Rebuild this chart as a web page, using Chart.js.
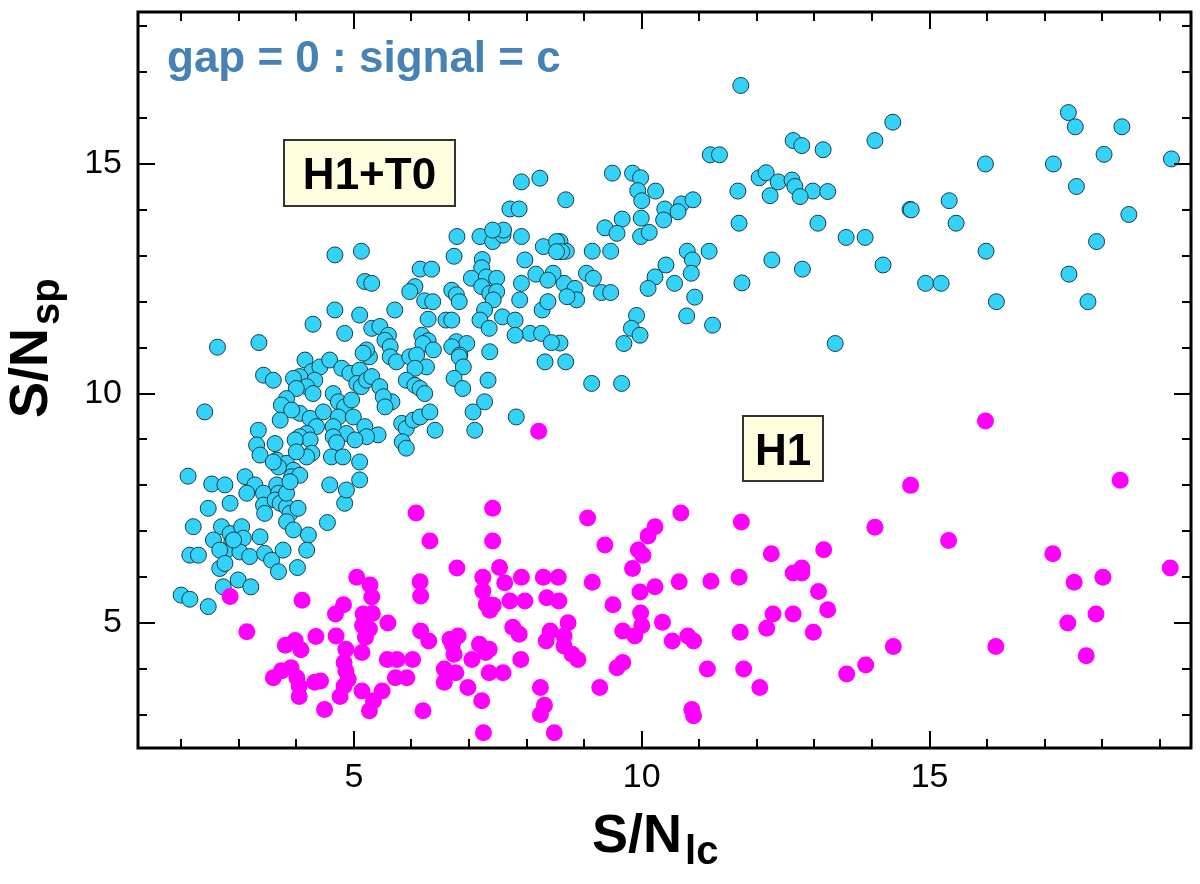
<!DOCTYPE html>
<html>
<head>
<meta charset="utf-8">
<script src="https://cdn.jsdelivr.net/npm/chart.js@4/dist/chart.umd.min.js"></script>
<style>
  html, body { margin: 0; padding: 0; background: #fff; }
  #wrap { width: 1200px; height: 884px; }
</style>
</head>
<body>
<div id="wrap"><canvas id="chart" width="1200" height="884"></canvas></div>
<script>
// axis ranges and tick values
const xRange = [1.25, 19.54];
const yRange = [2.28, 18.31];
const xMajorTicks = [5, 10, 15];
const yMajorTicks = [5, 10, 15];

// labels
const titleText = 'gap = 0 : signal = c';
const xTitle = ['S/N', 'lc'];
const yTitle = ['S/N', 'sp'];
const boxLabels = ['H1+T0', 'H1'];

// H1+T0 population (cyan), [S/N_lc, S/N_sp]
const h1t0Points = [
  [14.36,15.91],[14.05,15.51],[17.41,16.12],[17.53,15.81],[18.34,15.81],[18.03,15.21],[19.20,15.11],[15.97,15.00],
  [17.15,15.00],[17.55,14.51],[15.34,14.20],[14.66,14.01],[14.68,14.00],[15.46,13.71],[18.46,13.90],[15.98,13.10],
  [17.90,13.31],[14.19,12.80],[14.93,12.40],[15.20,12.40],[17.42,12.60],[16.16,12.00],[17.75,12.00],
  [11.72,16.71],[12.63,15.51],[12.78,15.40],[13.15,15.31],[11.19,15.20],[11.35,15.20],[9.49,14.80],[9.84,14.80],
  [9.98,14.70],[12.04,14.70],[12.16,14.81],[12.37,14.61],[12.61,14.65],[12.66,14.51],[12.97,14.41],[12.75,14.29],
  [13.23,14.40],[11.67,14.41],[12.23,14.31],[9.93,14.42],[10.00,14.20],[10.24,14.41],[8.68,14.22],[10.40,14.02],
  [10.38,13.78],[10.69,14.13],[10.89,14.22],[10.63,13.96],[9.99,13.82],[9.98,13.42],[10.13,13.51],[9.66,13.80],
  [9.36,13.61],[9.57,13.49],[8.58,13.31],[8.69,13.10],[9.14,13.10],[9.46,13.10],[11.69,13.71],[13.06,13.71],
  [13.55,13.40],[13.88,13.40],[10.79,13.10],[11.17,13.10],[10.88,12.91],[10.42,12.80],[10.23,12.54],[10.11,12.29],
  [10.57,12.40],[10.86,12.62],[12.26,12.91],[12.79,12.71],[11.74,12.41],[9.04,12.62],[9.16,12.51],[8.65,12.40],
  [8.84,12.29],[8.87,12.04],[8.70,12.11],[9.30,12.20],[9.46,12.20],[10.92,12.10],[10.78,11.69],[11.23,11.49],
  [9.91,11.70],[9.82,11.42],[9.97,11.27],[9.69,11.09],[13.36,11.09],[8.68,10.69],[9.13,10.22],[9.65,10.22],
  [8.58,11.10],
  [7.91,14.61],[8.23,14.69],[7.71,14.02],[7.87,14.02],
  [6.79,13.42],[7.19,13.42],[7.41,13.31],[7.59,13.45],[7.60,13.56],[7.41,13.56],[7.91,13.42],[8.29,13.20],
  [8.52,13.31],[8.61,13.09],[8.52,13.09],[6.74,12.99],[7.23,12.92],[7.97,12.91],[5.13,13.10],[4.67,13.02],
  [6.15,12.71],[6.35,12.71],[7.22,12.74],[8.16,12.60],[8.46,12.62],[8.37,12.47],[7.04,12.51],[7.30,12.54],
  [7.48,12.51],[7.22,12.33],[5.19,12.44],[5.31,12.40],[6.06,12.33],[5.97,12.22],[6.70,12.25],[6.78,12.15],
  [6.83,12.00],[7.91,12.40],[7.36,12.18],[7.48,12.22],[6.23,12.02],[6.37,12.00],[7.42,12.04],[7.27,11.82],
  [7.88,12.04],[8.27,11.82],[8.37,12.00],[4.67,11.82],[5.10,11.71],[5.71,11.82],[7.58,11.67],[7.80,11.60],
  [7.19,11.60],[7.35,11.42],[6.29,11.62],[6.60,11.60],[6.70,11.60],[4.29,11.51],[5.31,11.42],[5.45,11.46],
  [4.84,11.31],[8.06,11.31],[8.26,11.31],[7.80,11.27],[8.43,11.11],[5.60,11.27],[5.54,11.16],[5.63,11.02],
  [6.18,11.27],[6.29,11.15],[6.20,11.09],[6.38,10.95],[6.78,11.13],[6.96,11.09],[6.70,11.02],[6.84,10.84],
  [7.36,10.91],[8.32,10.69],[5.27,10.80],[5.22,10.95],[5.16,10.88],[5.63,10.80],[5.74,10.69],[5.97,10.80],
  [6.09,10.84],[6.26,10.58],[6.06,10.55],[6.83,10.80],[6.90,10.58],[4.15,10.73],[4.27,10.48],[4.41,10.58],
  [4.32,10.29],[4.58,10.73],[4.79,10.55],[4.93,10.44],[5.10,10.51],[5.05,10.22],[5.13,10.15],[5.22,10.29],
  [5.31,10.37],[5.45,10.15],[5.66,9.82],[5.51,9.93],[4.64,10.00],[4.73,9.82],[4.84,9.71],[4.96,9.86],
  [5.91,10.29],[6.06,10.18],[6.15,10.11],[6.23,10.00],[6.74,10.33],[6.89,10.11],[7.33,10.29],[4.06,10.37],
  [4.18,10.15],[4.29,10.00],[4.06,9.57],[4.24,9.46],[4.35,9.28],[4.18,9.13],[4.47,9.60],[4.73,9.49],
  [4.64,9.28],[4.99,9.49],[4.87,9.13],[5.19,9.28],[5.42,9.10],[5.22,9.06],[5.54,9.71],[5.83,9.35],
  [5.91,9.24],[6.03,9.42],[6.15,9.49],[6.32,9.60],[6.41,9.20],[7.07,9.60],[7.27,9.82],[7.10,9.20],
  [7.82,9.49],[5.84,8.95],[5.91,8.81],[5.02,8.99],[4.64,9.06],[4.70,8.93],[4.06,9.06],[4.24,8.99],
  [4.27,8.70],[4.18,8.62],[4.61,8.62],[4.81,8.62],[5.10,8.51],
  [2.63,11.01],[3.35,11.11],[2.41,9.60],[3.43,10.40],[3.60,10.29],[3.95,10.33],[4.00,10.11],[3.83,9.89],
  [3.74,9.75],[3.92,9.64],[3.72,9.42],[3.34,9.20],[3.31,8.88],[3.37,8.66],[3.63,8.91],[3.66,8.55],
  [3.83,8.48],[3.98,8.99],[4.00,8.73],[3.95,8.33],[2.12,8.20],[2.53,8.03],[2.76,8.01],[2.47,7.50],
  [2.85,7.61],[3.11,8.19],[3.28,8.01],[3.14,7.83],[3.43,7.83],[3.43,7.57],[3.45,7.39],[3.66,8.01],
  [3.69,7.83],[3.63,7.68],[3.72,7.61],[3.83,7.53],[3.89,7.39],[4.03,7.50],[3.83,7.21],[3.95,7.03],
  [4.21,6.92],[4.18,6.59],[4.54,7.19],[2.21,7.10],[2.70,7.10],[2.85,6.95],[3.05,7.10],[3.08,6.85],
  [2.56,6.81],[2.88,6.77],[2.76,6.55],[3.02,6.55],[3.19,6.45],[3.37,6.88],[3.45,6.52],[3.57,6.37],
  [3.77,6.59],[2.15,6.48],[2.30,6.48],[2.67,6.19],[2.99,5.94],[3.21,5.79],[2.73,5.79],[3.69,6.12],
  [4.02,6.21],[2.00,5.61],[2.15,5.52],[2.47,5.36],[4.84,7.61],[4.87,7.90],[4.58,8.01],[5.10,8.12],
  [3.69,8.40],[3.60,8.51],[3.83,7.83],[3.92,8.19],[4.06,8.22],[3.89,8.08],[2.91,6.81],[2.67,6.59],
  [2.76,6.30]
];

// H1 population (magenta)
const h1Points = [
  [2.85,5.58],[3.14,4.81],[4.10,5.50],[4.34,4.71],[3.81,4.52],[3.98,4.62],[4.08,4.42],[4.68,5.20],
  [4.82,5.40],[4.69,4.72],[4.86,4.43],[5.14,4.36],[5.16,5.20],[5.32,5.21],[5.15,4.95],[5.27,4.87],
  [5.20,4.69],[5.31,5.57],[5.59,5.00],[4.83,4.14],[4.86,3.96],[4.90,3.78],[4.83,3.63],[3.60,3.81],
  [3.74,3.96],[3.91,4.03],[4.01,3.81],[4.05,3.63],[4.32,3.71],[4.42,3.74],[4.05,3.40],[4.49,3.12],
  [4.76,3.40],[5.14,3.52],[5.49,3.52],[5.34,3.31],[5.27,3.09],[5.58,4.21],[5.75,4.21],[6.02,4.21],
  [5.72,3.81],[5.92,3.81],[6.16,4.83],[6.30,4.61],[6.20,3.09],[6.67,4.65],[6.81,4.72],[6.74,4.32],
  [6.71,4.54],[6.57,4.00],[6.57,3.71],[6.77,3.92],[6.98,3.60],[7.05,4.21],[7.22,3.31],[7.18,4.54],
  [7.35,4.43],[7.29,4.36],[7.35,3.92],[7.59,3.92],[7.25,2.61],[7.30,5.41],[7.36,5.28],[7.71,5.48],
  [7.97,5.48],[7.76,4.91],[7.87,4.76],[7.90,4.21],[8.24,3.60],[8.31,3.21],[8.24,3.01],[8.48,2.61],
  [8.35,5.55],[8.56,5.48],[8.41,4.83],[8.34,4.61],[8.72,5.01],[8.65,4.72],[8.65,4.50],[8.79,4.32],
  [8.89,4.21],[9.27,3.60],[9.50,5.40],[9.57,4.03],[9.67,4.14],[9.67,4.83],[9.88,4.72],[9.98,5.22],
  [10.00,4.95],[10.36,5.02],[10.53,4.61],[10.80,4.72],[10.90,4.61],[10.87,3.12],[10.90,2.98],[11.14,4.00],
  [6.08,7.40],[7.41,7.50],[6.32,6.79],[7.41,6.79],[9.06,7.29],[10.68,7.40],[10.23,7.10],[10.11,6.90],
  [9.36,6.70],[9.94,6.59],[10.02,6.48],[9.84,6.19],[6.79,6.20],[7.53,6.21],[7.24,6.00],[7.62,5.88],
  [7.91,6.00],[8.29,6.00],[8.55,6.00],[9.14,5.89],[10.65,5.90],[10.23,5.79],[9.97,5.68],[5.05,6.00],
  [5.28,5.83],[6.15,5.90],[6.16,5.59],[7.24,5.70],[7.42,5.39],[8.21,9.18],
  [15.97,9.40],[18.31,8.11],[14.67,8.00],[11.73,7.20],[14.05,7.09],[15.33,6.80],[17.14,6.51],[13.16,6.60],
  [12.25,6.51],[11.20,5.91],[11.69,6.00],[12.63,6.09],[12.78,6.20],[12.78,6.09],[13.07,5.69],[17.51,5.89],
  [18.01,6.00],[19.18,6.20],[12.28,5.20],[12.63,5.20],[13.23,5.29],[17.89,5.20],[17.40,5.00],[11.71,4.80],
  [12.17,4.89],[12.98,4.80],[14.37,4.49],[16.15,4.49],[17.72,4.29],[11.77,4.00],[13.89,4.09],[13.56,3.89],
  [12.05,3.60]
];

const FONT = '"Liberation Sans", Arial, Helvetica, sans-serif';

// frame, inward ticks, titles and label boxes
const decorations = {
  id: 'decorations',
  afterDatasetsDraw(chart) {
    const ctx = chart.ctx;
    const { left, right, top, bottom } = chart.chartArea;
    const xs = chart.scales.x, ys = chart.scales.y;
    ctx.save();
    ctx.strokeStyle = '#000';
    ctx.lineWidth = 2;
    ctx.beginPath();
    for (let v = Math.ceil(xRange[0]); v <= Math.floor(xRange[1]); v++) {
      const len = xMajorTicks.includes(v) ? 17 : 9;
      const px = Math.round(xs.getPixelForValue(v));
      ctx.moveTo(px, bottom); ctx.lineTo(px, bottom - len);
      ctx.moveTo(px, top); ctx.lineTo(px, top + len);
    }
    for (let v = Math.ceil(yRange[0]); v <= Math.floor(yRange[1]); v++) {
      const len = yMajorTicks.includes(v) ? 17 : 9;
      const py = Math.round(ys.getPixelForValue(v));
      ctx.moveTo(left, py); ctx.lineTo(left + len, py);
      ctx.moveTo(right, py); ctx.lineTo(right - len, py);
    }
    ctx.stroke();
    ctx.lineWidth = 3;
    ctx.strokeRect(left, top, right - left, bottom - top);

    // title inside plot
    ctx.fillStyle = '#4682b4';
    ctx.font = 'bold 44px ' + FONT;
    ctx.textAlign = 'left';
    ctx.textBaseline = 'alphabetic';
    ctx.fillText(titleText, 167, 72);

    // label boxes
    const boxes = [
      { text: boxLabels[0], x: 284, y: 140, w: 171, h: 66 },
      { text: boxLabels[1], x: 743, y: 416, w: 80, h: 65 }
    ];
    boxes.forEach(b => {
      ctx.fillStyle = '#ffffe0';
      ctx.fillRect(b.x, b.y, b.w, b.h);
      ctx.strokeStyle = '#333';
      ctx.lineWidth = 2;
      ctx.strokeRect(b.x, b.y, b.w, b.h);
      ctx.fillStyle = '#000';
      ctx.font = 'bold 44px ' + FONT;
      ctx.textAlign = 'center';
      ctx.textBaseline = 'alphabetic';
      ctx.fillText(b.text, b.x + b.w / 2, b.y + b.h / 2 + 16);
    });

    // axis titles with subscripts
    ctx.fillStyle = '#000';
    ctx.textAlign = 'left';
    ctx.font = 'bold 54px ' + FONT;
    const wx = ctx.measureText(xTitle[0]).width;
    ctx.fillText(xTitle[0], 592, 852);
    ctx.font = 'bold 40px ' + FONT;
    ctx.fillText(xTitle[1], 592 + wx + 3, 864);

    ctx.translate(47, 418);
    ctx.rotate(-Math.PI / 2);
    ctx.font = 'bold 54px ' + FONT;
    const wy = ctx.measureText(yTitle[0]).width;
    ctx.fillText(yTitle[0], 0, 0);
    ctx.font = 'bold 40px ' + FONT;
    ctx.fillText(yTitle[1], wy + 3, 12);
    ctx.restore();
  }
};

new Chart(document.getElementById('chart').getContext('2d'), {
  type: 'scatter',
  data: {
    datasets: [
      {
        label: 'H1',
        data: h1Points.map(p => ({ x: p[0], y: p[1] })),
        backgroundColor: '#ff00ff',
        borderWidth: 0,
        pointRadius: 8.5
      },
      {
        label: 'H1+T0',
        data: h1t0Points.map(p => ({ x: p[0], y: p[1] })),
        backgroundColor: '#33d2f8',
        borderColor: '#1d3b45',
        borderWidth: 1,
        pointRadius: 8
      }
    ]
  },
  options: {
    responsive: false,
    animation: false,
    devicePixelRatio: 1,
    layout: { padding: { top: 12, right: 9, left: 0, bottom: 0 } },
    plugins: { legend: { display: false }, tooltip: { enabled: false } },
    scales: {
      x: {
        type: 'linear',
        min: xRange[0],
        max: xRange[1],
        grid: { display: false, drawTicks: false },
        border: { display: false },
        afterBuildTicks: s => { s.ticks = xMajorTicks.map(v => ({ value: v })); },
        afterFit: s => { s.height = 136; s.paddingLeft = 0; s.paddingRight = 0; },
        ticks: { color: '#000', font: { family: FONT, size: 34 }, padding: 9, maxRotation: 0 }
      },
      y: {
        type: 'linear',
        min: yRange[0],
        max: yRange[1],
        grid: { display: false, drawTicks: false },
        border: { display: false },
        afterBuildTicks: s => { s.ticks = yMajorTicks.map(v => ({ value: v })); },
        afterFit: s => { s.width = 138; s.paddingTop = 0; s.paddingBottom = 0; },
        ticks: { color: '#000', font: { family: FONT, size: 34 }, padding: 16 }
      }
    }
  },
  plugins: [decorations]
});
</script>
</body>
</html>
